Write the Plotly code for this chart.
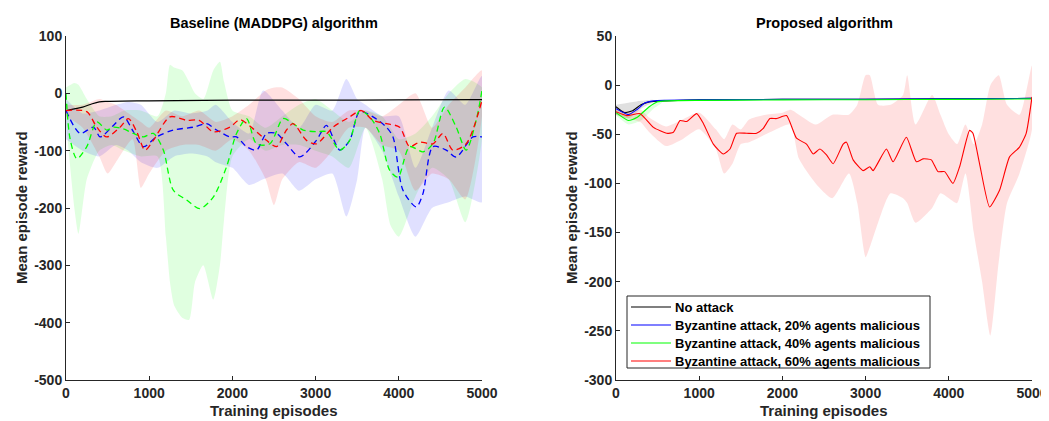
import plotly.graph_objects as go

# ---------------- left panel: baseline (MADDPG) ----------------
L_black_x = [0, 100, 200, 300, 400, 500, 1000, 2000, 3000, 4000, 5000]
L_black_y = [-30, -27, -24, -19, -15, -14, -13, -12, -12, -11.5, -11]

L_red_x = [0, 250, 370, 490, 650, 750, 850, 950, 1050, 1250, 1450, 1600, 1770, 1970, 2090, 2250,
           2410, 2530, 2650, 2730, 2890, 3010, 3210, 3410, 3550, 3690, 3850, 4010, 4130, 4250,
           4410, 4530, 4650, 4810, 5000]
L_red_y = [-30, -32, -59, -76, -59, -44, -67, -99, -82, -41, -47, -47, -67, -59, -46, -62,
           -82, -93, -64, -53, -82, -88, -59, -41, -30, -47, -53, -59, -93, -85,
           -88, -70, -99, -88, -12]

L_green_x = [0, 50, 130, 250, 370, 490, 570, 690, 810, 930, 1050, 1170, 1290, 1450, 1610, 1770,
             1930, 2050, 2170, 2290, 2450, 2610, 2730, 2850, 3010, 3130, 3290, 3410, 3530, 3650,
             3770, 3890, 3990, 4130, 4290, 4410, 4550, 4690, 4810, 4930, 5000]
L_green_y = [0, -80, -114, -93, -50, -64, -59, -62, -70, -76, -70, -99, -169, -186, -201, -181,
             -128, -70, -44, -88, -88, -44, -53, -64, -67, -67, -99, -82, -30, -41,
             -70, -134, -146, -93, -102, -88, -24, -59, -99, -47, 5]

L_blue_x = [0, 170, 330, 410, 570, 690, 810, 930, 1090, 1290, 1530, 1690, 1810, 1970, 2050, 2170,
            2290, 2410, 2530, 2650, 2810, 3010, 3130, 3290, 3410, 3530, 3690, 3850, 3930, 4050,
            4210, 4290, 4410, 4570, 4690, 4890, 5000]
L_blue_y = [-30, -70, -59, -76, -56, -41, -67, -93, -76, -64, -59, -53, -64, -76, -76, -93,
            -99, -70, -70, -88, -111, -82, -56, -99, -82, -32, -41, -59, -76, -169,
            -198, -175, -93, -99, -111, -76, -76]

L_green_band_x = [0, 100, 150, 250, 400, 550, 700, 900, 1100, 1200, 1250, 1300, 1400, 1480, 1550,
                  1650, 1770, 1850, 1900, 2000, 2200, 2400, 2600, 2800, 3000, 3200, 3400, 3600,
                  3800, 3900, 4000, 4200, 4400, 4600, 4800, 5000]
L_green_band_hi = [10, 18, 15, -10, -40, -40, -30, -30, -40, 0, 50, 45, 40, 20, 0, -10,
                   40, 55, 20, -30, -40, -60, -40, -20, -10, -30, -50, -30,
                   -40, -60, -80, -70, -40, 0, 25, 10]
L_green_band_lo = [-50, -200, -245, -150, -100, -90, -100, -110, -110, -250, -330, -370, -392, -395, -330,
                   -300, -360, -300, -220, -110, -80, -100, -90, -90, -100, -110, -130, -60,
                   -150, -230, -250, -180, -130, -150, -225, -80]

L_blue_band_x = [0, 200, 400, 600, 750, 900, 1100, 1300, 1500, 1700, 1800, 2000, 2200, 2370, 2600,
                 2800, 3000, 3200, 3370, 3500, 3600, 3800, 4000, 4200, 4400, 4600, 4800, 5000]
L_blue_band_hi = [-10, -35, -30, -20, -15, -20, -50, -30, -35, -30, -20, -50, -70, 5, -30,
                  -60, -20, -30, 25, -10, -20, -40, -40, -130, -60, 5, -20, 30]
L_blue_band_lo = [-80, -100, -110, -90, -100, -120, -130, -110, -105, -110, -120, -130, -160, -150, -140,
                  -170, -150, -140, -215, -150, -60, -100, -180, -250, -200, -190, -180, -190]

L_red_band_x = [0, 200, 400, 500, 600, 800, 900, 1000, 1200, 1400, 1600, 1800, 2000, 2200, 2400,
                2500, 2600, 2800, 3000, 3200, 3400, 3600, 3800, 4000, 4200, 4400, 4600, 4800, 5000]
L_red_band_hi = [-20, -20, -10, -15, -20, -40, -50, -60, -30, -40, -30, -50, -40, -20, 5,
                 10, 10, -10, -40, -50, -30, -30, -40, -20, 0, -60, -20, 10, 40]
L_red_band_lo = [-40, -60, -110, -140, -120, -80, -165, -140, -100, -90, -90, -100, -80, -100, -150,
                 -195, -150, -120, -130, -100, -60, -60, -90, -100, -170, -140, -150, -185, -40]

# ---------------- right panel: proposed ----------------
R_black_x = [0, 100, 200, 300, 400, 600, 1000, 2000, 3000, 4000, 5000]
R_black_y = [-22, -28, -26, -20, -17, -16, -15, -14.5, -14.5, -14, -13.5]
R_blue_x = [0, 150, 250, 350, 450, 600, 1000, 2000, 3000, 4000, 5000]
R_blue_y = [-24, -30, -25, -18, -16, -15.5, -15, -14.5, -14.5, -14, -13.5]
R_green_x = [0, 150, 250, 400, 500, 600, 1000, 2000, 3000, 4000, 5000]
R_green_y = [-28, -36, -33, -22, -17, -16, -15.5, -15, -14.8, -14.5, -14]
R_red_x = [0, 130, 290, 450, 610, 690, 770, 850, 970, 1050, 1170, 1290, 1370, 1450, 1570, 1690,
           1770, 1850, 1930, 2050, 2170, 2290, 2370, 2450, 2530, 2610, 2730, 2770, 2850, 2970,
           3050, 3090, 3250, 3330, 3490, 3610, 3690, 3790, 3870, 3950, 4050, 4130, 4250, 4290,
           4370, 4490, 4610, 4730, 4850, 4930, 5000]
R_red_y = [-27, -31, -29, -43, -49, -48, -36, -37, -29, -39, -60, -70, -65, -49, -49, -49,
           -44, -34, -34, -31, -54, -60, -70, -65, -71, -80, -60, -58, -76, -87,
           -83, -87, -65, -78, -53, -78, -75, -76, -88, -88, -100, -83, -46, -49,
           -80, -124, -107, -73, -63, -49, -12]

R_black_band_x = [0, 150, 300, 450]
R_black_band_hi = [-20, -18, -16, -15]
R_black_band_lo = [-30, -34, -24, -17]
R_green_band_x = [0, 150, 300, 450, 550]
R_green_band_hi = [-25, -32, -28, -18, -16]
R_green_band_lo = [-31, -40, -36, -24, -18]
R_red_band_x = [0, 200, 300, 400, 600, 800, 1000, 1200, 1300, 1400, 1500, 1600, 1800, 2000, 2100,
                2200, 2400, 2600, 2800, 2900, 3000, 3050, 3150, 3300, 3450, 3500, 3600, 3800,
                3900, 4000, 4100, 4200, 4300, 4400, 4500, 4600, 4700, 4850, 5000]
R_red_band_hi = [-25, -27, -25, -33, -42, -35, -28, -45, -55, -40, -45, -35, -30, -28, -25,
                 -30, -40, -30, -30, -20, 10, 10, -20, -20, -10, 10, -40, -10,
                 -30, -50, -60, -40, -60, -40, 0, 10, -20, -30, 20]
R_red_band_lo = [-30, -35, -38, -48, -62, -55, -45, -65, -90, -80, -60, -58, -50, -42, -40,
                 -75, -100, -115, -90, -120, -175, -165, -140, -110, -115, -120, -140, -125,
                 -110, -115, -120, -90, -150, -200, -255, -180, -120, -90, -45]

x_ticks = [0, 1000, 2000, 3000, 4000, 5000]
left_yticks = [-500, -400, -300, -200, -100, 0, 100]
right_yticks = [-300, -250, -200, -150, -100, -50, 0, 50]
legend_names = ["No attack",
                "Byzantine attack, 20% agents malicious",
                "Byzantine attack, 40% agents malicious",
                "Byzantine attack, 60% agents malicious"]
legend_colors = ["black", "#0000ff", "#00ff00", "#ff0000"]

FONT = "Liberation Sans"
TXT = "#262626"
OFF = 8                      # page body margin
W, H = 1049 - OFF, 421 - OFF


def px(x):  # screen x -> paper
    return (x - OFF) / W


def py(y):  # screen y -> paper
    return 1 - (y - OFF) / H


def band(x, hi, lo, color, xa, ya):
    return go.Scatter(x=list(x) + list(x)[::-1], y=list(hi) + list(lo)[::-1],
                      fill="toself", fillcolor=color, line=dict(width=0, shape="spline", smoothing=0.6),
                      mode="lines", hoverinfo="skip", showlegend=False, xaxis=xa, yaxis=ya)


fig = go.Figure()

# left bands
fig.add_trace(band(L_green_band_x, L_green_band_hi, L_green_band_lo, "rgba(0,255,0,0.12)", "x", "y"))
fig.add_trace(band(L_blue_band_x, L_blue_band_hi, L_blue_band_lo, "rgba(0,0,255,0.12)", "x", "y"))
fig.add_trace(band(L_red_band_x, L_red_band_hi, L_red_band_lo, "rgba(255,0,0,0.12)", "x", "y"))

# left lines
fig.add_trace(go.Scatter(x=L_black_x, y=L_black_y, mode="lines", line=dict(color="black", width=1.2, shape="spline"),
                         showlegend=False, xaxis="x", yaxis="y"))
for xs, ys, c in [(L_blue_x, L_blue_y, "#0000ff"), (L_green_x, L_green_y, "#00ff00"), (L_red_x, L_red_y, "#ff0000")]:
    fig.add_trace(go.Scatter(x=xs, y=ys, mode="lines",
                             line=dict(color=c, width=1.3, dash="6px,4px", shape="spline", smoothing=0.8),
                             showlegend=False, xaxis="x", yaxis="y"))

# right bands
fig.add_trace(band(R_black_band_x, R_black_band_hi, R_black_band_lo, "rgba(0,0,0,0.12)", "x2", "y2"))
fig.add_trace(band(R_green_band_x, R_green_band_hi, R_green_band_lo, "rgba(0,255,0,0.12)", "x2", "y2"))
fig.add_trace(band(R_red_band_x, R_red_band_hi, R_red_band_lo, "rgba(255,0,0,0.12)", "x2", "y2"))

# right lines
for xs, ys, c, name in zip([R_black_x, R_blue_x, R_green_x, R_red_x],
                           [R_black_y, R_blue_y, R_green_y, R_red_y], legend_colors, legend_names):
    fig.add_trace(go.Scatter(x=xs, y=ys, mode="lines", name=name, showlegend=False,
                             line=dict(color=c, width=1.1, shape="spline", smoothing=0.5),
                             xaxis="x2", yaxis="y2"))

tickfont = dict(family=FONT, size=14, color=TXT, weight="bold")
titlefont = dict(family=FONT, size=15, color=TXT, weight="bold")
ax_common = dict(showgrid=False, zeroline=False, showline=True, linecolor=TXT, linewidth=1,
                 ticks="inside", ticklen=4, tickcolor=TXT, tickfont=tickfont, mirror=False,
                 automargin=False, ticklabeloverflow="allow")

# legend box drawn by hand (MATLAB style, tight rows)
shapes = [dict(type="rect", xref="paper", yref="paper", x0=px(627), x1=px(930), y0=py(368), y1=py(296),
               line=dict(color=TXT, width=1), fillcolor="white", layer="above")]
annotations = []
for i, (name, c) in enumerate(zip(legend_names, legend_colors)):
    yy = py(307 + 18 * i)
    shapes.append(dict(type="line", xref="paper", yref="paper", x0=px(631), x1=px(671), y0=yy, y1=yy,
                       line=dict(color=c, width=1.1), layer="above"))
    annotations.append(dict(text=name, x=px(673), y=yy, xref="paper", yref="paper", xanchor="left",
                            yanchor="middle", showarrow=False,
                            font=dict(family=FONT, size=13, color="black", weight="bold")))

# titles and axis titles
for cx, ttl in [(274, "Baseline (MADDPG) algorithm"), (824, "Proposed algorithm")]:
    annotations.append(dict(text=ttl, x=px(cx), y=py(23), xref="paper", yref="paper",
                            xanchor="center", yanchor="middle", showarrow=False,
                            font=dict(family=FONT, size=14.5, color="black", weight="bold")))
    annotations.append(dict(text="Training episodes", x=px(cx), y=py(410), xref="paper", yref="paper",
                            xanchor="center", yanchor="middle", showarrow=False, font=titlefont))
for cx in [22, 572]:
    annotations.append(dict(text="Mean episode reward", x=px(cx), y=py(208), xref="paper", yref="paper",
                            xanchor="center", yanchor="middle", textangle=-90, showarrow=False,
                            font=titlefont))

ydom = [py(380), py(36)]
fig.update_layout(
    width=W, height=H,
    margin=dict(l=0, r=0, t=0, b=0, autoexpand=False),
    paper_bgcolor="white", plot_bgcolor="white",
    showlegend=False,
    xaxis=dict(domain=[px(66), px(482)], range=[0, 5000], tickvals=x_ticks, anchor="y", **ax_common),
    yaxis=dict(domain=ydom, range=[-500, 100], tickvals=left_yticks, ticktext=[str(v) for v in left_yticks],
               anchor="x", **ax_common),
    xaxis2=dict(domain=[px(616), px(1032)], range=[0, 5000], tickvals=x_ticks, anchor="y2", **ax_common),
    yaxis2=dict(domain=ydom, range=[-300, 50], tickvals=right_yticks, ticktext=[str(v) for v in right_yticks],
                anchor="x2", **ax_common),
    shapes=shapes,
    annotations=annotations,
)

fig.write_html("out.html")
